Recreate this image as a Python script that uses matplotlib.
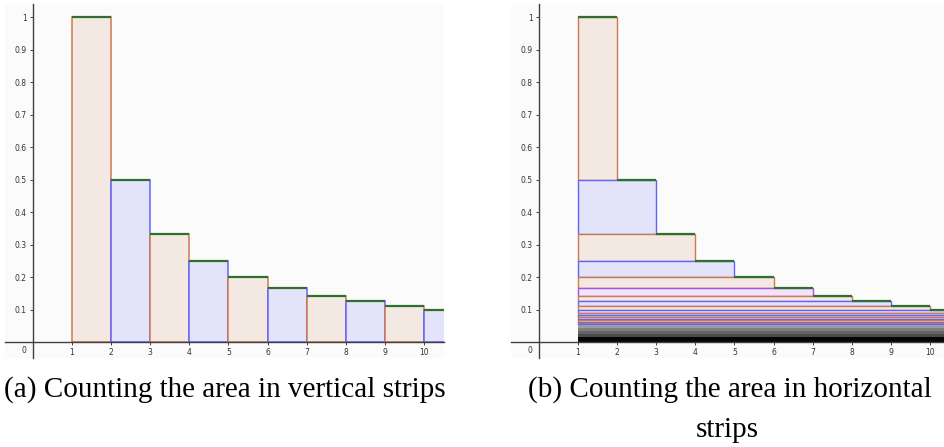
import matplotlib.pyplot as plt

# values
bar_left = [1, 2, 3, 4, 5, 6, 7, 8, 9, 10]
bar_height = [1.0, 0.5, 0.333, 0.25, 0.2, 0.167, 0.143, 0.125, 0.111, 0.1]
bar_kind = ['o', 'b', 'o', 'b', 'o', 'b', 'o', 'b', 'o', 'b']

strip_top = [1.0, 0.5, 0.333, 0.25, 0.2, 0.167, 0.143, 0.125, 0.111, 0.1,
             0.0909, 0.0833, 0.0769, 0.0714, 0.0667, 0.0625, 0.0588, 0.0556]
strip_kind = ['o', 'b', 'o', 'b', 'o', 'p', 'o', 'b', 'o', 'b',
              'o', 'b', 'o', 'b', 'o', 'b', 'o', 'b']
gray_edges = [0.0535, 0.044, 0.034, 0.024, 0.016, 0.0]
gray_shades = ['#9c9c9c', '#7e7e7e', '#646464', '#4a4a4a', '#050505']

x_ticks = [1, 2, 3, 4, 5, 6, 7, 8, 9, 10]
y_ticks = [0.1, 0.2, 0.3, 0.4, 0.5, 0.6, 0.7, 0.8, 0.9, 1]
y_labels = ['0.1', '0.2', '0.3', '0.4', '0.5', '0.6', '0.7', '0.8', '0.9', '1']

fill = {'o': '#f3e8e2', 'b': '#e3e3fa', 'p': '#f1e3f8'}
edge = {'o': '#cc7a50', 'b': '#6262ff', 'p': '#a452e6'}
green = '#2f6f2f'
axis_col = '#404040'

W, H = 944, 447
fig = plt.figure(figsize=(W / 100, H / 100), dpi=100)


def make_axes(px_left, px_right, xmin, xmax):
    ax = fig.add_axes([px_left / W, (H - 358) / H, (px_right - px_left) / W, 354 / H])
    ax.set_xlim(xmin, xmax)
    ax.set_ylim(-0.049, 1.04)
    ax.set_facecolor('#fbfbfb')
    for s in ['top', 'right']:
        ax.spines[s].set_visible(False)
    for s in ['left', 'bottom']:
        ax.spines[s].set_position(('data', 0))
        ax.spines[s].set_color(axis_col)
        ax.spines[s].set_linewidth(1.0)
    ax.set_xticks(x_ticks)
    ax.set_yticks(y_ticks)
    ax.set_yticklabels(y_labels)
    ax.tick_params(length=2.5, width=0.7, color=axis_col, labelsize=5.5,
                   labelcolor='#333333', pad=2)
    ax.text(-0.17, -0.012, '0', fontsize=5.5, color='#333333', ha='right', va='top')
    return ax


# (a) vertical strips
ax1 = make_axes(5, 444, -0.713, 10.51)
for x, h, k in zip(bar_left, bar_height, bar_kind):
    ax1.bar(x, h, width=1, align='edge', color=fill[k], edgecolor=edge[k],
            linewidth=1.1, zorder=2)
    ax1.hlines(h, x, x + 1, color=green, linewidth=1.6, zorder=3)

# (b) horizontal strips
ax2 = make_axes(511, 944, -0.713, 10.36)
for i, (top, k) in enumerate(zip(strip_top, strip_kind)):
    bottom = strip_top[i + 1] if i + 1 < len(strip_top) else gray_edges[0]
    ax2.barh(bottom, i + 1, height=top - bottom, left=1, align='edge',
             color=fill[k], edgecolor=edge[k], linewidth=1.0, zorder=2)
for j, c in enumerate(gray_shades):
    ax2.barh(gray_edges[j + 1], 20, height=gray_edges[j] - gray_edges[j + 1],
             left=1, align='edge', color=c, linewidth=0, zorder=2)
for x, h in zip(bar_left, bar_height):
    ax2.hlines(h, x, x + 1, color=green, linewidth=1.6, zorder=3)

cap = dict(family='Liberation Serif', fontsize=21, ha='center', va='baseline')
fig.text(225 / W, 1 - 397 / H, '(a) Counting the area in vertical strips', **cap)
fig.text(730 / W, 1 - 397 / H, '(b) Counting the area in horizontal', **cap)
fig.text(727 / W, 1 - 437 / H, 'strips', **cap)

fig.savefig('out.png', dpi=100, facecolor='white')
